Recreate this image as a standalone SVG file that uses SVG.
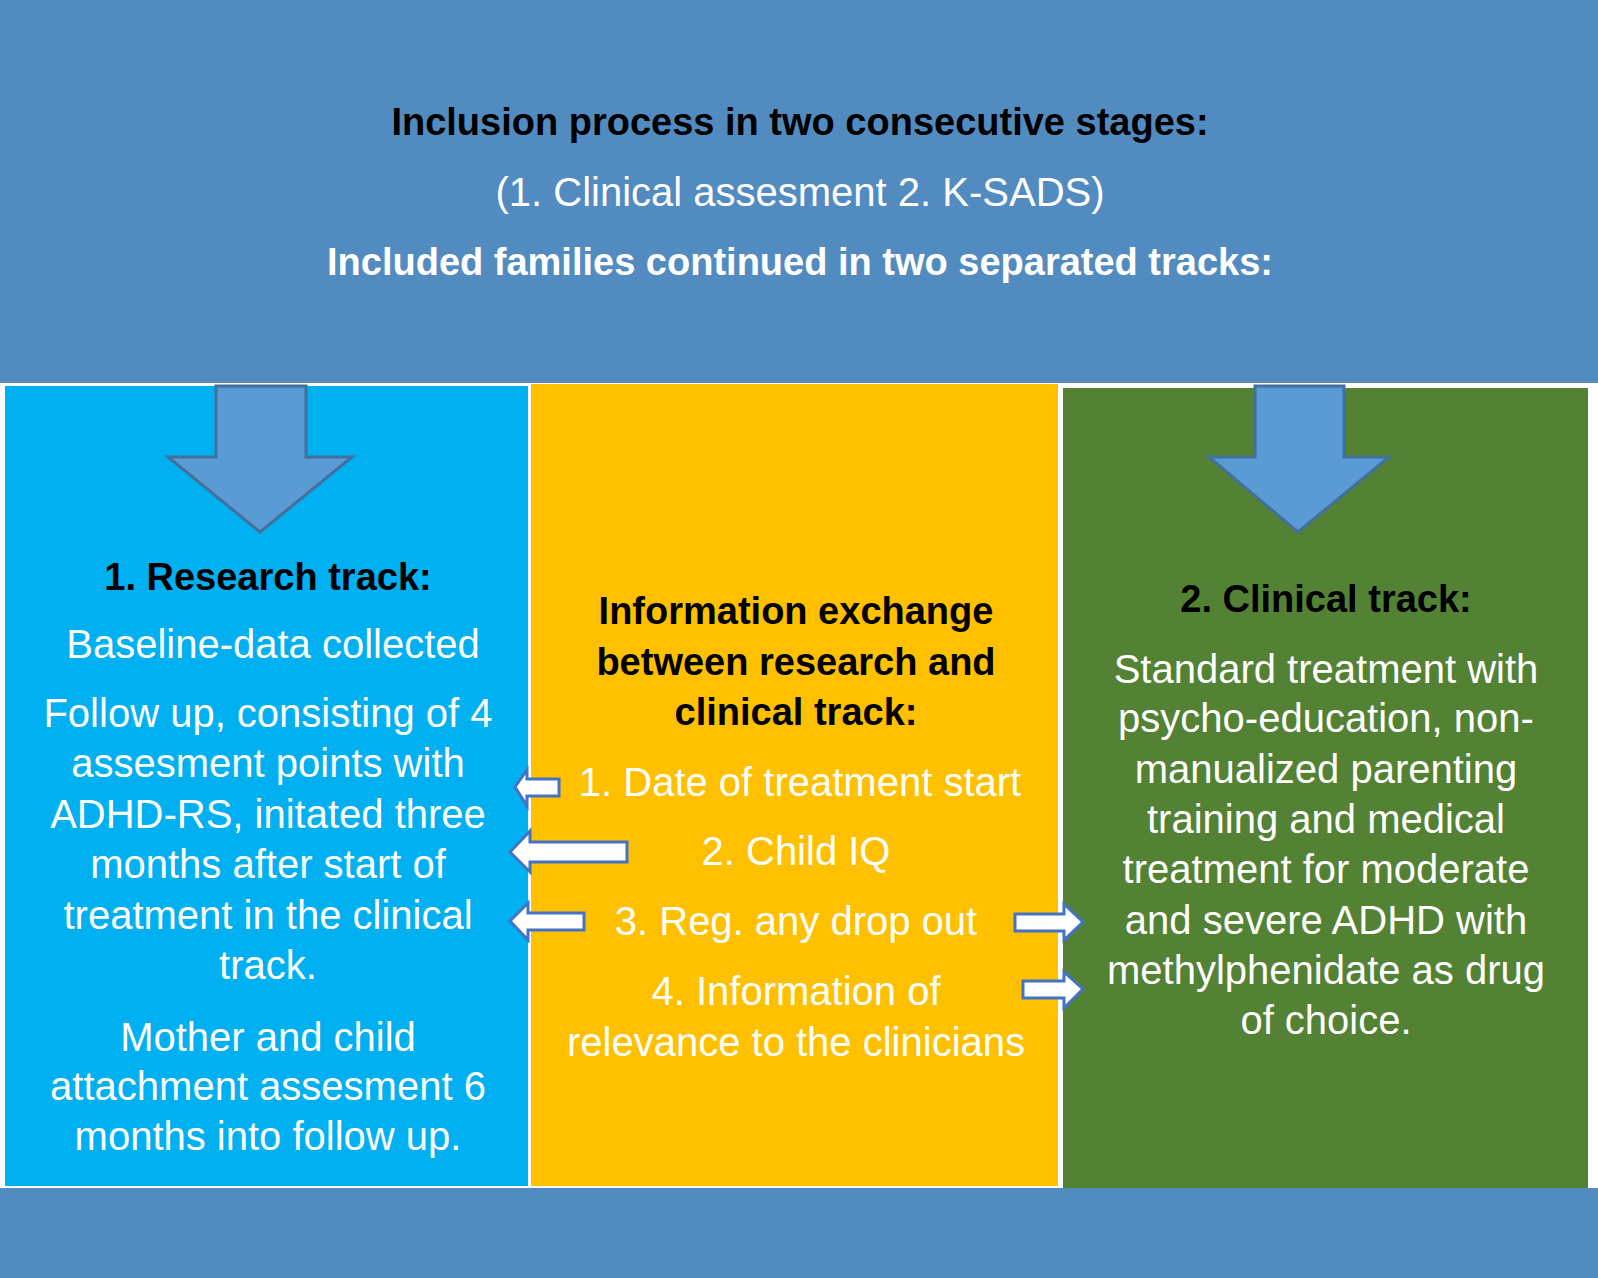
<svg xmlns="http://www.w3.org/2000/svg" width="1598" height="1278" viewBox="0 0 1598 1278">
<style>
text{font-family:"Liberation Sans",Arial,sans-serif;font-size:40px;text-anchor:middle;fill:#fff}
.b{font-weight:bold;fill:#000;font-size:38px}
.bw{font-weight:bold;fill:#fff;font-size:38px}
.big{fill:#5B9BD5;stroke:#41719C;stroke-width:3}
.sm{fill:#fff;stroke:#4472C4;stroke-width:3}
</style>
<rect width="1598" height="1278" fill="#fff"/>
<g id="top"><rect x="0" y="0" width="1598" height="383" fill="#528BC0"/>
<text class="b" x="800" y="135">Inclusion process in two consecutive stages:</text>
<text x="800" y="206">(1. Clinical assesment 2. K-SADS)</text>
<text class="bw" x="800" y="275">Included families continued in two separated tracks:</text></g>
<g id="bottom"><rect x="0" y="1188" width="1598" height="90" fill="#528BC0"/></g>
<g id="research"><rect x="5" y="386" width="523" height="800" fill="#00B0F0"/>
<text class="b" x="268" y="590">1. Research track:</text>
<text x="273" y="658">Baseline-data collected</text>
<text x="268" y="727">Follow up, consisting of 4</text>
<text x="268" y="777">assesment points with</text>
<text x="268" y="828">ADHD-RS, initated three</text>
<text x="268" y="878">months after start of</text>
<text x="268" y="929">treatment in the clinical</text>
<text x="268" y="979">track.</text>
<text x="268" y="1051">Mother and child</text>
<text x="268" y="1100">attachment assesment 6</text>
<text x="268" y="1150">months into follow up.</text></g>
<g id="exchange"><rect x="531" y="384" width="527" height="802" fill="#FFC000"/>
<text class="b" x="796" y="624">Information exchange</text>
<text class="b" x="796" y="675">between research and</text>
<text class="b" x="796" y="725">clinical track:</text>
<text x="800" y="796">1. Date of treatment start</text>
<text x="796" y="865">2. Child IQ</text>
<text x="796" y="935">3. Reg. any drop out</text>
<text x="796" y="1005">4. Information of</text>
<text x="796" y="1056">relevance to the clinicians</text></g>
<g id="clinical"><rect x="1063" y="388" width="525" height="800" fill="#548235"/>
<text class="b" x="1326" y="612">2. Clinical track:</text>
<text x="1326" y="683">Standard treatment with</text>
<text x="1326" y="732">psycho-education, non-</text>
<text x="1326" y="783">manualized parenting</text>
<text x="1326" y="833">training and medical</text>
<text x="1326" y="883">treatment for moderate</text>
<text x="1326" y="934">and severe ADHD with</text>
<text x="1326" y="984">methylphenidate as drug</text>
<text x="1326" y="1034">of choice.</text></g>
<g id="connectors">
<polygon class="big" points="216,386 306,386 306,457 352,457 260,532 168,457 216,457"/>
<polygon class="big" points="1255,386 1344,386 1344,457 1389,457 1298,532 1209,457 1255,457"/>
<polygon class="sm" points="515,787 527,770 527,779 559,779 559,796 527,796 527,806"/>
<polygon class="sm" points="510,852 530,831 530,842 627,842 627,862 530,862 530,872"/>
<polygon class="sm" points="510,921 528,903 528,913 584,913 584,930 528,930 528,940"/>
<polygon class="sm" points="1083,922 1064,904 1064,914 1015,914 1015,931 1064,931 1064,940"/>
<polygon class="sm" points="1083,989 1064,972 1064,981 1023,981 1023,998 1064,998 1064,1008"/>
</g>
</svg>
